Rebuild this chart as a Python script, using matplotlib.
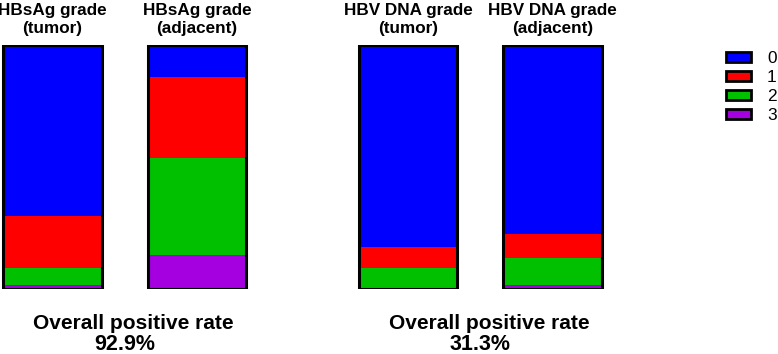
import matplotlib.pyplot as plt
from matplotlib.patches import Patch
import numpy as np

plt.rcParams['font.family'] = ['Liberation Sans', 'DejaVu Sans']

# data (percent of cases per grade)
grades = ['0', '1', '2', '3']
titles = [('HBsAg grade', '(tumor)'), ('HBsAg grade', '(adjacent)'),
          ('HBV DNA grade', '(tumor)'), ('HBV DNA grade', '(adjacent)')]
grade0 = [70.0, 13.1, 82.9, 77.5]
grade1 = [21.2, 33.2, 8.6, 9.8]
grade2 = [7.3, 39.8, 8.5, 11.1]
grade3 = [1.5, 13.9, 0.0, 1.6]
rates = ['92.9%', '31.3%']

colors = ['#0000FF', '#FF0000', '#00C000', '#A400E0']

fig = plt.figure(figsize=(7.78, 3.54), dpi=100)
ax = fig.add_axes([0, 65 / 354, 1, 244 / 354])

xpos = np.array([0, 1, 2.46, 3.46])
w = 0.68
ax.set_xlim(-52.5 / 144.5, (778 - 52.5) / 144.5)
ax.set_ylim(0, 100)
ax.axis('off')

series = [grade3, grade2, grade1, grade0]
cols = colors[::-1]
bottom = np.zeros(4)
for vals, c in zip(series, cols):
    ax.bar(xpos, vals, w, bottom=bottom, color=c, edgecolor='none')
    bottom += np.array(vals)

# outline around each whole bar
ax.bar(xpos, bottom, w, facecolor='none', edgecolor='black', linewidth=2.2, zorder=3)

# titles above bars
for x, (l1, l2) in zip(xpos, titles):
    xf = ax.transData.transform((x, 0))[0] / fig.bbox.width
    fig.text(xf, 1 - 14.5 / 354, l1, ha='center', va='baseline', fontsize=12.3, fontweight='bold')
    fig.text(xf, 1 - 33 / 354, l2, ha='center', va='baseline', fontsize=12.3, fontweight='bold')

# overall positive rate under each pair
for i, r in enumerate(rates):
    xm = (xpos[2 * i] + xpos[2 * i + 1]) / 2
    xf = ax.transData.transform((xm, 0))[0] / fig.bbox.width
    fig.text(xf + 9 / 778, 1 - 329 / 354, 'Overall positive rate', ha='center', va='baseline',
             fontsize=15, fontweight='bold')
    fig.text(xf, 1 - 350 / 354, r, ha='center', va='baseline', fontsize=15.5, fontweight='bold',
             family=['Liberation Sans Narrow', 'Liberation Sans'])

handles = [Patch(facecolor=c, edgecolor='black', linewidth=2) for c in colors]
fig.legend(handles, grades, loc='upper left', bbox_to_anchor=(726 / 778, 1 - 51 / 354),
           frameon=False, fontsize=12.4, handlelength=1.45, handleheight=0.52,
           handletextpad=0.93, labelspacing=0.24, borderpad=0, borderaxespad=0)

fig.savefig('out.png', dpi=100)
